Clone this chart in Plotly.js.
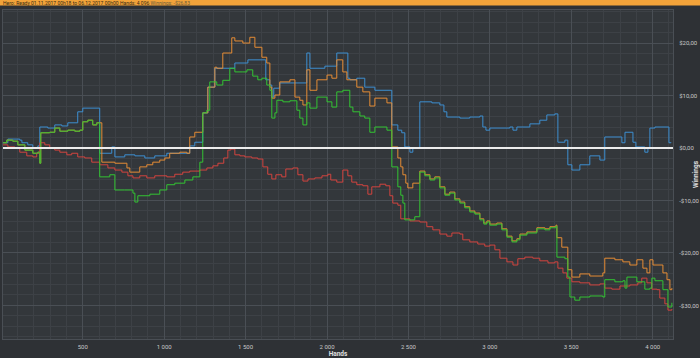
<!DOCTYPE html>
<html>
<head>
<meta charset="utf-8">
<script src="https://cdn.plot.ly/plotly-3.0.1.min.js"></script>
<style>
html,body{margin:0;padding:0;background:#2e3135;}
#chart{width:700px;height:358px;}
</style>
</head>
<body>
<div id="chart"></div>
<script>
// ---- data (hands, winnings in $) ----
const blueHands = [9,40,113,126,162,193,224,236,285,328,371,408,469,500,604,678,697,758,820,881,942,1016,1096,1157,1188,1237,1268,1311,1434,1514,1624,1649,1661,1673,1710,1876,1895,1987,2060,2128,2140,2183,2232,2294,2398,2435,2459,2478,2509,2527,2570,2644,2693,2718,2736,2816,2877,2939,2957,2976,3000,3123,3142,3166,3246,3307,3350,3399,3418,3461,3479,3504,3553,3614,3676,3706,3811,3830,3879,3897,3952,3971,3983,4014,4100,4112];
const blueWin   = [1.0,1.7,1.5,1.0,0.6,0.0,0.4,4.0,3.8,4.4,4.2,4.8,6.9,7.6,-1.0,0.2,-1.7,-1.3,-1.5,-1.9,-1.5,-1.0,-1.0,0.4,1.1,6.7,11.6,15.2,16.2,16.8,13.0,12.0,9.7,11.4,12.4,18.1,15.2,15.6,18.1,13.3,13.0,13.3,11.6,11.0,4.4,3.4,2.9,0.2,-0.8,0.0,8.8,8.6,8.2,6.9,5.9,5.7,5.9,6.1,4.0,3.4,3.8,4.0,3.4,4.0,4.6,5.3,6.3,6.5,1.1,1.5,-3.2,-4.2,-3.2,-1.5,-2.3,2.1,1.0,3.0,1.1,0.2,-0.8,0.0,3.8,4.0,1.0,1.1];

const orangeHands = [9,33,70,101,144,193,224,236,242,297,328,359,408,451,482,500,531,561,586,617,697,771,789,850,893,930,973,1004,1034,1096,1139,1157,1188,1237,1268,1311,1323,1360,1415,1434,1483,1526,1557,1600,1630,1649,1661,1680,1710,1772,1803,1833,1852,1876,1895,1938,2000,2030,2060,2097,2122,2140,2183,2220,2263,2294,2368,2398,2435,2453,2466,2484,2496,2527,2570,2601,2632,2662,2693,2724,2754,2785,2816,2846,2877,2908,2939,2963,2982,3000,3043,3074,3105,3136,3166,3185,3228,3289,3338,3369,3406,3412,3442,3479,3504,3553,3614,3694,3706,3768,3817,3860,3903,3940,3965,3983,4002,4063,4088,4106,4118];
const orangeWin   = [1.0,1.5,1.3,0.6,-0.4,-1.0,-0.8,-2.9,2.9,3.0,3.8,3.2,3.4,3.2,3.4,5.0,5.3,4.4,4.8,-2.7,-2.9,-3.8,-4.6,-3.6,-3.2,-2.7,-2.3,-1.9,-1.0,-0.8,-1.0,2.1,3.0,6.7,11.6,15.4,15.2,18.1,21.0,20.4,20.0,21.1,19.2,17.3,16.2,11.6,9.5,10.1,12.6,13.0,9.7,9.1,8.2,14.9,11.0,13.0,13.9,13.3,16.8,14.5,13.0,13.0,11.6,10.7,8.0,9.5,8.6,0.2,-1.9,-3.6,-5.1,-6.7,-7.6,-6.7,-4.4,-5.1,-5.9,-5.5,-7.4,-8.8,-8.4,-9.7,-10.3,-11.2,-12.0,-12.4,-13.5,-14.3,-13.9,-14.5,-14.3,-15.4,-16.8,-17.7,-17.3,-16.4,-16.0,-15.2,-15.4,-15.0,-14.7,-17.1,-18.9,-23.2,-24.6,-24.0,-24.4,-23.8,-21.0,-21.3,-21.7,-22.3,-21.3,-22.9,-23.8,-21.3,-22.3,-23.8,-25.1,-27.0,-26.7];

const greenHands = [9,33,70,101,144,193,224,236,242,297,328,359,408,451,482,500,531,561,586,604,666,697,758,808,820,838,912,973,1016,1065,1127,1176,1219,1237,1262,1280,1323,1360,1403,1434,1483,1508,1544,1575,1600,1630,1649,1661,1680,1692,1729,1772,1815,1833,1852,1876,1895,1938,2000,2030,2060,2097,2140,2159,2202,2232,2263,2294,2368,2398,2435,2453,2466,2478,2539,2570,2601,2632,2662,2693,2724,2754,2785,2816,2846,2877,2908,2939,2963,2982,3000,3043,3074,3105,3136,3166,3185,3228,3289,3338,3369,3406,3412,3461,3479,3492,3522,3553,3614,3694,3706,3768,3817,3830,3842,3903,3952,3983,3995,4014,4063,4094,4118];
const greenWin   = [1.0,1.5,1.3,0.6,-0.4,-1.0,-0.8,-2.9,2.9,3.0,3.8,3.2,3.4,3.2,3.4,5.0,5.3,4.4,4.8,-5.5,-5.1,-8.0,-8.0,-8.6,-10.3,-9.1,-8.8,-8.0,-7.0,-6.7,-6.1,-5.5,-2.7,6.7,7.2,12.6,12.0,12.9,15.2,14.5,14.5,14.9,13.7,13.0,13.3,12.0,11.0,5.7,6.7,9.1,8.8,9.0,7.2,5.7,4.4,8.6,7.6,9.7,8.8,7.8,10.7,11.0,7.8,6.9,6.1,5.7,3.0,4.0,3.4,-3.6,-7.4,-9.0,-10.5,-13.7,-13.1,-4.6,-5.3,-6.1,-5.7,-7.6,-9.0,-8.6,-9.9,-10.5,-11.4,-12.2,-12.6,-13.7,-14.5,-14.1,-14.7,-14.5,-15.6,-17.0,-17.9,-17.5,-16.6,-16.2,-15.4,-15.6,-15.2,-14.9,-20.8,-21.1,-24.6,-28.4,-29.0,-28.4,-28.2,-28.4,-25.1,-25.5,-25.3,-26.7,-24.6,-25.5,-26.9,-26.7,-24.8,-25.3,-27.0,-30.3,-29.5];

const redHands = [9,40,83,113,156,193,217,236,267,297,328,359,402,432,469,512,555,604,654,697,740,777,808,850,893,942,1016,1065,1114,1157,1219,1262,1299,1330,1366,1391,1409,1434,1465,1495,1538,1575,1606,1636,1661,1686,1722,1747,1790,1821,1852,1883,1925,1969,2005,2023,2060,2097,2128,2152,2183,2220,2251,2275,2325,2361,2386,2404,2435,2453,2509,2570,2613,2650,2693,2736,2767,2816,2834,2877,2926,2969,3000,3031,3062,3105,3142,3172,3215,3264,3307,3357,3399,3418,3449,3473,3504,3553,3614,3676,3706,3749,3799,3860,3909,3933,3965,3995,4026,4044,4075,4094,4118];
const redWin   = [0.6,0.2,0.0,-0.8,-1.5,-1.7,-1.0,1.0,0.6,0.0,-0.4,-0.8,-1.3,-1.0,-1.7,-1.9,-2.7,-3.2,-3.8,-4.2,-4.6,-5.3,-5.7,-5.3,-5.7,-5.3,-5.5,-5.0,-4.6,-4.4,-4.2,-3.8,-3.4,-2.9,-1.9,-0.4,-0.2,-1.3,-1.5,-1.7,-1.9,-2.1,-3.6,-5.0,-5.9,-5.1,-5.5,-4.0,-3.8,-5.1,-6.3,-5.9,-5.7,-5.3,-5.0,-6.1,-6.5,-4.2,-5.3,-6.5,-7.0,-7.2,-8.8,-7.4,-6.9,-7.2,-9.1,-10.5,-10.9,-13.5,-13.9,-14.1,-15.0,-15.6,-16.4,-16.8,-16.2,-16.4,-17.5,-17.9,-18.3,-18.7,-18.5,-19.4,-21.0,-21.7,-22.3,-21.1,-20.8,-21.0,-21.5,-21.9,-21.7,-22.9,-23.8,-24.8,-25.5,-25.7,-26.1,-25.9,-26.7,-26.9,-26.3,-26.1,-25.7,-24.8,-25.7,-26.9,-27.0,-28.6,-29.7,-30.9,-30.7];

const xTickVals = [500,1000,1500,2000,2500,3000,3500,4000];
const xTickText = ['500','1 000','1 500','2 000','2 500','3 000','3 500','4 000'];
const yTickVals = [-30,-20,-10,0,10,20];
const yTickText = ['-$30,00','-$20,00','-$10,00','$0,00','$10,00','$20,00'];

const titleText = 'Hero: Ready 01.11.2017 00h18 to 06.12.2017 00h00 Hands: 4 096 <span style="color:#6b5a3a">Winnings: -$26,83</span>';

function tr(x, y, color) {
  return {x: x, y: y, type: 'scatter', mode: 'lines',
          line: {color: color, width: 1, shape: 'hv'}, hoverinfo: 'skip', showlegend: false};
}

const data = [
  tr(blueHands, blueWin, '#3d8fd1'),
  tr(orangeHands, orangeWin, '#e58c35'),
  tr(redHands, redWin, '#d2443f'),
  tr(greenHands, greenWin, '#33c433')
];

const gridMajor = '#4a4f55';
const gridMinor = '#3d4146';
const tickFont = {family: 'Roboto, Arial, sans-serif', size: 6, color: '#c8c8c8'};

const layout = {
  width: 700, height: 358,
  paper_bgcolor: '#2e3135',
  plot_bgcolor: '#33373b',
  margin: {l: 3, r: 27, t: 10, b: 19, pad: 0},
  showlegend: false,
  xaxis: {
    range: [10, 4125], tickmode: 'array', tickvals: xTickVals, ticktext: xTickText,
    showgrid: true, gridcolor: gridMajor, gridwidth: 1,
    minor: {dtick: 100, tick0: 0, showgrid: true, gridcolor: gridMinor, gridwidth: 1},
    showline: true, mirror: true, linecolor: gridMajor, linewidth: 1,
    zeroline: false, ticks: '', tickfont: tickFont, ticklabelstandoff: 2,
    title: {text: 'Hands', font: {family: 'Roboto, Arial, sans-serif', size: 6.5, color: '#e0e0e0', weight: 'bold'}, standoff: 4}
  },
  yaxis: {
    side: 'right', range: [-36.4, 26.3], tickmode: 'array', tickvals: yTickVals, ticktext: yTickText,
    showgrid: true, gridcolor: gridMajor, gridwidth: 1,
    minor: {dtick: 2, tick0: 0, showgrid: true, gridcolor: gridMinor, gridwidth: 1},
    showline: true, mirror: true, linecolor: gridMajor, linewidth: 1,
    zeroline: false, ticks: '', tickfont: tickFont, ticklabelstandoff: 4,
    title: {text: 'Winnings', font: {family: 'Roboto, Arial, sans-serif', size: 6.5, color: '#e0e0e0', weight: 'bold'}, standoff: 2}
  },
  shapes: [
    {type: 'rect', xref: 'paper', yref: 'paper', x0: -0.01, x1: 1.05, y0: 1.0137, y1: 1.04,
     fillcolor: '#f2a33a', line: {width: 0}, layer: 'above'},
    {type: 'line', xref: 'paper', yref: 'y', x0: 0, x1: 1, y0: 0, y1: 0,
     line: {color: '#ececec', width: 1.8}, layer: 'above'}
  ],
  annotations: [
    {xref: 'paper', yref: 'paper', x: -0.0035, y: 1.022, xanchor: 'left', yanchor: 'middle',
     text: titleText, showarrow: false,
     font: {family: 'Roboto, Arial, sans-serif', size: 5, color: '#3a2c12'}}
  ]
};

Plotly.newPlot('chart', data, layout, {displayModeBar: false, staticPlot: true});
</script>
</body>
</html>
